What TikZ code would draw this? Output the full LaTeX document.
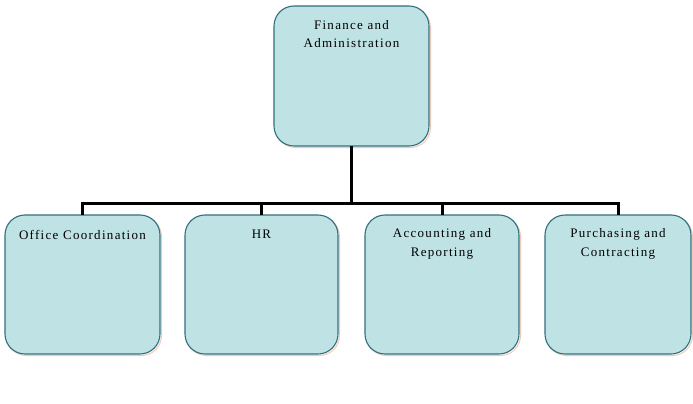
\documentclass[tikz,border=0pt]{standalone}
\usepackage{fontspec}
\setmainfont{Liberation Serif}[LetterSpace=10]
\begin{document}
\begin{tikzpicture}[x=1pt,y=-1pt,
  unit/.style={draw=boxline, line width=1.1pt, fill=boxfill, rounded corners=20pt},
  caption/.style={font=\fontsize{13}{18.5}\selectfont, align=center, text=black, anchor=north, inner sep=0pt},
  link/.style={line width=3pt, draw=black}]
\definecolor{boxfill}{HTML}{BFE2E5}
\definecolor{boxline}{HTML}{2F6F7E}
\definecolor{halo}{HTML}{F2C8B8}
\useasboundingbox (0,0) rectangle (693,404);
% top unit
\draw[halo, line width=1pt, rounded corners=20pt] (275.5,7.5) rectangle (430.5,147.5);
\path[unit] (274,6) rectangle (429,146);
\coordinate (fa) at (351.5,146);
\node[caption] (fat) at (351.5,20.2) {Finance and\\Administration};
% bottom units
\foreach \l/\r/\n in {5/160/oc, 185/338/hr, 365/519/ar, 545/691/pc}{
  \draw[halo, line width=1pt, rounded corners=20pt] (\l+1.5,216.5) rectangle (\r+1.5,355.5);
  \path[unit] (\l,215) rectangle (\r,354);
  \coordinate (\n) at ({(\l+\r)/2},215);
}
\node[caption] (oct) at (82.5,230) {Office Coordination};
\node[caption] (hrt) at (261.5,230) {HR};
\node[caption] (art) at (442,228.3) {Accounting and\\Reporting};
\node[caption] (pct) at (618,228.3) {Purchasing and\\Contracting};
% connectors
\coordinate (bus) at (351.5,203);
\draw[link] (fa) -- (bus);
\draw[link] (oc) |- (bus) -| (pc);
\draw[link] (hr) -- (hr |- bus);
\draw[link] (ar) -- (ar |- bus);
\end{tikzpicture}
\end{document}
